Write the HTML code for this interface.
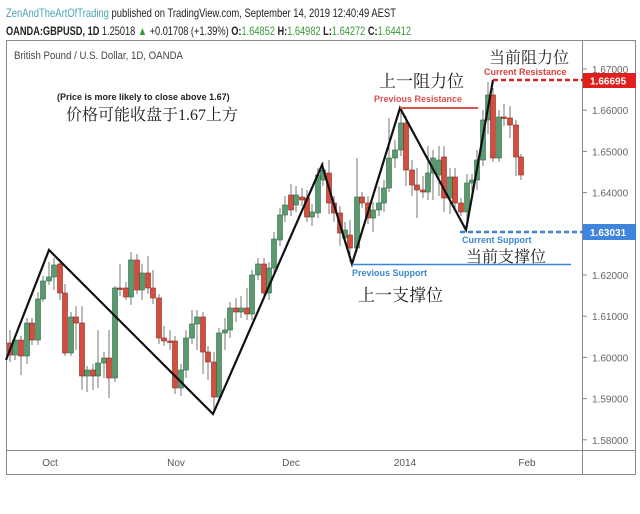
<!DOCTYPE html>
<html><head><meta charset="utf-8"><style>
body{margin:0;background:#fff;width:640px;height:509px;overflow:hidden;font-family:"Liberation Sans","Noto Sans CJK SC",sans-serif}
</style></head><body>
<svg id="s" width="640" height="509" xmlns="http://www.w3.org/2000/svg" font-family="Liberation Sans, Noto Sans CJK SC, sans-serif">
<text x="6" y="17" font-size="12" fill="#4aa3b8" textLength="390" lengthAdjust="spacingAndGlyphs">ZenAndTheArtOfTrading <tspan fill="#222">published on TradingView.com, September 14, 2019 12:40:49 AEST</tspan></text>
<text x="6" y="35" font-size="12" fill="#222" textLength="405" lengthAdjust="spacingAndGlyphs"><tspan font-weight="bold">OANDA:GBPUSD, 1D</tspan> 1.25018 <tspan fill="#3a9a3a">▲</tspan> +0.01708 (+1.39%) <tspan font-weight="bold">O:</tspan><tspan fill="#3a9a3a">1.64852</tspan> <tspan font-weight="bold">H:</tspan><tspan fill="#3a9a3a">1.64982</tspan> <tspan font-weight="bold">L:</tspan><tspan fill="#3a9a3a">1.64272</tspan> <tspan font-weight="bold">C:</tspan><tspan fill="#3a9a3a">1.64412</tspan></text>
<rect x="6.5" y="40.5" width="629" height="434" fill="none" stroke="#888"/>
<line x1="582.5" y1="40" x2="582.5" y2="475" stroke="#888"/>
<line x1="6" y1="450.5" x2="636" y2="450.5" stroke="#888"/>
<text x="14" y="59" font-size="11" fill="#444" textLength="169" lengthAdjust="spacingAndGlyphs">British Pound / U.S. Dollar, 1D, OANDA</text>
<g id="c"></g>
<g font-size="10" fill="#666" id="ax"></g>
<g font-size="10" fill="#555" text-anchor="middle">
<text x="50" y="466">Oct</text><text x="176" y="466">Nov</text><text x="291" y="466">Dec</text><text x="405" y="466">2014</text><text x="527" y="466">Feb</text>
</g>
<polyline points="6,360 49,250 213,414 322,165 352,264 400,108 466,230 493,80" fill="none" stroke="#111" stroke-width="2.2"/>
<line x1="400" y1="108" x2="478" y2="108" stroke="#d9534f" stroke-width="2"/>
<line x1="493" y1="80" x2="583" y2="80" stroke="#d9232a" stroke-width="2.5" stroke-dasharray="5,3"/>
<line x1="352" y1="264.5" x2="571" y2="264.5" stroke="#3b82d8" stroke-width="1.5"/>
<line x1="460" y1="232" x2="583" y2="232" stroke="#3b7fd8" stroke-width="2.5" stroke-dasharray="5,3"/>
<rect x="583" y="73" width="53" height="15" fill="#e0201e"/>
<text x="590" y="84.5" font-size="10" fill="#fff" font-weight="bold">1.66695</text>
<rect x="583" y="224" width="53" height="16" fill="#3f85de"/>
<text x="590" y="236" font-size="10" fill="#fff" font-weight="bold">1.63031</text>
<g font-size="9" font-weight="bold">
<text x="484" y="75" fill="#d84040">Current Resistance</text>
<text x="374" y="102" fill="#d85050">Previous Resistance</text>
<text x="462" y="243" fill="#3b88d0">Current Support</text>
<text x="352" y="276" fill="#3b88d0">Previous Support</text>
<text x="57" y="100" fill="#222">(Price is more likely to close above 1.67)</text>
</g>
<g font-family="Liberation Serif, Noto Serif CJK SC, serif" fill="#222">
<text x="489" y="63" font-size="16">当前阻力位</text>
<text x="379" y="87" font-size="17">上一阻力位</text>
<text x="466" y="262" font-size="16">当前支撑位</text>
<text x="358" y="301" font-size="17">上一支撑位</text>
<text x="66" y="120" font-size="16">价格可能收盘于1.67上方</text>
</g>
</svg>
<script>
var ns="http://www.w3.org/2000/svg",c=document.getElementById("c"),ax=document.getElementById("ax");
function el(t,a,p){var e=document.createElementNS(ns,t);for(var k in a)e.setAttribute(k,a[k]);(p||c).appendChild(e);return e;}
var ticks=[1.67,1.66,1.65,1.64,1.63,1.62,1.61,1.60,1.59,1.58];
ticks.forEach(function(p){var y=69+(1.67-p)*4120;if(Math.abs(y-80)<8||Math.abs(y-232)<8)return;
el("line",{x1:583,y1:y,x2:587,y2:y,stroke:"#888"},ax);var t=el("text",{x:592,y:y+4},ax);t.textContent=p.toFixed(5);});
var d=[[10,343,355,0,330,362],[15,340,355,1,335,360],[21,340,356,0,336,375],[27,323,356,1,318,364],[32,323,340,0,318,345],[38,299,340,1,292,345],
[43,281,299,1,276,302],[49,277,281,1,262,285],[54,265,277,1,258,290],[60,264,293,0,259,300],[65,293,353,0,284,356],[71,317,353,1,312,356],
[76,317,323,0,306,350],[82,323,376,0,306,390],[87,370,376,1,366,392],[93,370,376,0,364,390],[98,363,376,1,330,388],[104,358,363,1,352,378],
[109,358,378,0,330,398],[115,288,378,1,286,382],[120,288,289,0,264,296],[126,288,297,0,282,300],[131,260,297,1,252,305],[137,260,290,0,254,294],
[142,273,290,1,264,300],[148,273,288,0,256,294],[153,288,298,0,270,304],[159,298,338,0,294,344],[164,338,341,0,326,346],[170,341,342,0,330,350],
[175,341,388,0,336,394],[181,370,388,1,364,396],[186,338,370,1,330,378],[192,324,338,1,310,344],[197,317,324,1,310,350],[203,317,352,0,312,374],
[208,352,362,0,346,380],[214,362,397,0,352,410],[219,333,397,1,328,400],[225,330,333,1,318,350],[230,308,330,1,302,338],[236,308,312,0,298,322],
[241,308,312,1,296,318],[247,308,314,0,288,320],[252,275,314,1,270,320],[258,264,275,1,258,280],[264,264,293,0,258,298],[269,268,293,1,262,300],
[274,239,268,1,232,272],[280,215,240,1,208,246],[285,205,215,1,196,222],[291,195,210,0,184,216],[296,195,205,1,186,212],[302,197,200,0,188,206],
[307,198,217,0,190,222],[312,212,217,1,204,226],[318,175,213,1,168,218],[323,170,180,1,162,186],[329,173,203,0,160,214],[334,203,213,0,196,222],
[340,213,233,0,206,246],[345,230,238,1,222,244],[350,235,248,0,220,262],[357,197,248,1,158,252],[362,197,203,0,192,208],[368,203,218,0,196,224],
[373,210,218,1,202,232],[379,203,210,1,186,216],[384,188,203,1,180,212],[389,158,188,1,118,192],[395,150,158,1,140,168],[401,123,150,1,110,156],
[406,123,170,0,116,186],[412,170,185,0,160,196],[417,185,190,0,168,218],[423,190,192,0,176,198],[428,173,192,1,146,200],[433,158,173,1,150,200],
[439,160,175,1,146,196],[444,157,198,0,146,212],[450,177,198,1,168,214],[455,177,203,0,168,210],[461,203,212,0,198,216],[467,183,212,1,174,220],
[472,180,183,1,174,192],[477,160,180,1,150,190],[483,120,160,1,110,166],[488,95,120,1,82,134],[493,95,158,0,88,162],[499,117,158,1,110,162],
[504,117,118,0,104,126],[510,118,125,0,106,138],[516,125,157,0,120,176],[521,157,175,0,154,180]];
d.forEach(function(k){var col=k[3]?"#5b9a70":"#d44e3f",st=k[3]?"#2f6b45":"#8b2a20";
el("line",{x1:k[0],y1:k[4],x2:k[0],y2:k[5],stroke:"#777","stroke-width":1});
el("rect",{x:k[0]-2.5,y:k[1],width:5,height:Math.max(1.5,k[2]-k[1]),fill:col,stroke:st,"stroke-width":0.6});});
</script>
</body></html>
